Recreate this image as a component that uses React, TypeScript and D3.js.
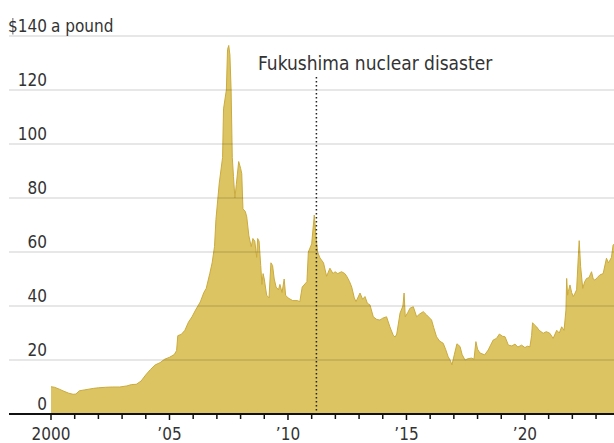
import React from "react";
import * as d3 from "d3";

// Uranium spot price, $ a pound (decimal year, price)
const years: number[] = [
  2000.0, 2000.15, 2000.35, 2000.55, 2000.75, 2000.93, 2001.05, 2001.2, 2001.4, 2001.6, 2001.8,
  2002.0, 2002.3, 2002.6, 2002.9, 2003.2, 2003.4, 2003.6, 2003.8, 2004.0, 2004.2, 2004.4, 2004.6,
  2004.8, 2005.0, 2005.2, 2005.3, 2005.35, 2005.5, 2005.65, 2005.8, 2005.95, 2006.1, 2006.3,
  2006.45, 2006.55, 2006.7, 2006.8, 2006.9, 2006.96, 2007.1, 2007.24, 2007.28, 2007.4, 2007.45,
  2007.5, 2007.55, 2007.6, 2007.65, 2007.7, 2007.76, 2007.82, 2007.92, 2008.0, 2008.05, 2008.1,
  2008.2, 2008.26, 2008.35, 2008.45, 2008.52, 2008.6, 2008.68, 2008.72, 2008.78, 2008.85, 2008.9,
  2008.95, 2009.0, 2009.1, 2009.2, 2009.28, 2009.35, 2009.42, 2009.5, 2009.6, 2009.66, 2009.75,
  2009.84, 2009.9, 2010.0, 2010.2, 2010.4, 2010.5, 2010.6, 2010.8, 2010.86, 2011.0, 2011.11,
  2011.18, 2011.25, 2011.35, 2011.5, 2011.63, 2011.77, 2011.9, 2011.98, 2012.1, 2012.26, 2012.4,
  2012.48, 2012.6, 2012.69, 2012.8, 2012.87, 2013.04, 2013.15, 2013.25, 2013.35, 2013.46, 2013.6,
  2013.75, 2013.88, 2014.0, 2014.16, 2014.3, 2014.44, 2014.52, 2014.59, 2014.73, 2014.85, 2014.9,
  2014.95, 2015.05, 2015.15, 2015.29, 2015.43, 2015.55, 2015.71, 2015.85, 2016.06, 2016.15,
  2016.27, 2016.4, 2016.55, 2016.65, 2016.76, 2016.84, 2016.92, 2017.02, 2017.13, 2017.26,
  2017.35, 2017.47, 2017.6, 2017.75, 2017.85, 2017.93, 2018.0, 2018.1, 2018.3, 2018.45, 2018.55,
  2018.66, 2018.8, 2018.92, 2019.05, 2019.16, 2019.3, 2019.45, 2019.58, 2019.7, 2019.86, 2020.0,
  2020.1, 2020.21, 2020.28, 2020.32, 2020.4, 2020.49, 2020.6, 2020.77, 2020.9, 2021.05, 2021.19,
  2021.34, 2021.45, 2021.55, 2021.65, 2021.73, 2021.76, 2021.8, 2021.83, 2021.9, 2021.97, 2022.04,
  2022.1, 2022.18, 2022.25, 2022.29, 2022.35, 2022.4, 2022.44, 2022.52, 2022.6, 2022.7, 2022.81,
  2022.88, 2022.95, 2023.05, 2023.16, 2023.3, 2023.44, 2023.52, 2023.59, 2023.65, 2023.72, 2023.78,
];
const prices: number[] = [
  10.1, 9.9, 9.2, 8.4, 7.7, 7.3, 7.4, 8.6, 8.9, 9.2, 9.5,
  9.7, 9.9, 10.0, 10.0, 10.4, 10.9, 11.0, 12.2, 14.5, 16.5, 18.2, 19.0,
  20.3, 21.0, 22.0, 23.5, 29.0, 29.5, 31.0, 34.0, 36.0, 38.5, 41.5,
  45.0, 46.5, 52.0, 56.0, 62.0, 72.0, 85.5, 95.0, 113.0, 120.0, 135.0,
  136.5, 133.0, 120.0, 95.0, 88.0, 80.0, 85.0, 93.5, 91.0, 89.0, 76.0,
  75.0, 73.0, 66.0, 62.0, 65.0, 64.0, 58.0, 65.0, 64.0, 55.0, 48.0,
  52.0, 50.0, 44.0, 43.0, 56.0, 55.0, 50.0, 47.0, 46.0, 48.0, 45.0,
  50.0, 44.0, 43.0, 42.0, 42.0, 41.6, 47.0, 49.0, 60.0, 63.0, 73.7,
  66.0, 60.0, 57.8, 56.0, 51.0, 54.0, 52.0, 52.7, 52.0, 52.7, 52.0,
  51.0, 49.0, 47.0, 43.0, 41.6, 44.8, 42.5, 43.5, 41.0, 40.4, 36.0,
  35.0, 34.8, 35.5, 36.0, 32.3, 29.2, 28.5, 29.6, 37.4, 40.0, 44.8,
  36.0, 37.5, 39.2, 39.7, 36.0, 37.0, 37.9, 36.7, 34.8, 32.0,
  28.6, 27.0, 26.2, 24.0, 21.2, 20.0, 18.2, 22.0, 26.0, 25.0,
  22.0, 20.0, 20.5, 20.7, 20.3, 26.8, 24.0, 22.6, 21.9, 23.7, 25.5,
  27.4, 28.0, 29.6, 28.8, 28.6, 25.5, 25.2, 25.9, 24.8, 25.5, 24.6,
  25.1, 24.9, 29.0, 33.8, 33.0, 32.3, 31.0, 29.9, 30.5, 29.9, 28.0,
  31.0, 30.0, 32.3, 31.0, 38.5, 50.2, 44.0, 45.3, 47.8, 45.0, 43.5,
  44.5, 46.0, 58.0, 64.2, 54.6, 50.0, 46.5, 49.0, 50.2, 50.5, 52.7,
  50.0, 49.6, 50.5, 51.5, 52.0, 57.7, 56.0, 57.0, 58.0, 62.6, 63.0,
];

const yTicks: number[] = [0, 20, 40, 60, 80, 100, 120, 140];
const xTickYears: number[] = d3.range(2000, 2024);
const xLabelYears: number[] = [2000, 2005, 2010, 2015, 2020];
const xLabels: string[] = ["2000", "\u201905", "\u201910", "\u201915", "\u201920"];
const annotationYear = 2011.2;
const annotationText = "Fukushima nuclear disaster";
const unitLabel = "a pound";

const W = 614;
const H = 443;
const FONT = "'DejaVu Sans Condensed', 'DejaVu Sans', sans-serif";

export default function App() {
  const x = d3.scaleLinear().domain([2000, 2023.8]).range([51, 615]);
  const y = d3.scaleLinear().domain([0, 140]).range([414, 36]);
  const data = years.map((yr, i) => ({ yr, v: prices[i] }));
  const area = d3
    .area<{ yr: number; v: number }>()
    .x((d) => x(d.yr))
    .y0(y(0))
    .y1((d) => y(d.v));
  const line = d3
    .line<{ yr: number; v: number }>()
    .x((d) => x(d.yr))
    .y((d) => y(d.v));

  return (
    <svg
      width={W}
      height={H}
      style={{ position: "absolute", left: 0, top: 0, background: "#fff" }}
      fontFamily={FONT}
    >
      <path d={area(data) || ""} fill="#dcc462" />
      <path d={line(data) || ""} fill="none" stroke="#cbab3e" strokeWidth={1} />
      {yTicks.map((t) =>
        t === 0 ? null : (
          <line key={t} x1={9} x2={W} y1={y(t)} y2={y(t)} stroke="rgba(0,0,0,0.13)" strokeWidth={1.5} />
        )
      )}
      {yTicks.map((t) =>
        t === 140 ? (
          <g key={t}>
            <text x={47} y={y(t) - 4} textAnchor="end" fontSize={17} fill="#333">
              {"$" + t}
            </text>
            <text x={51} y={y(t) - 4} textAnchor="start" fontSize={17} fill="#333">
              {unitLabel}
            </text>
          </g>
        ) : (
          <text key={t} x={47} y={y(t) - 4} textAnchor="end" fontSize={17} fill="#333">
            {t}
          </text>
        )
      )}
      <line
        x1={x(annotationYear)}
        x2={x(annotationYear)}
        y1={77}
        y2={y(0)}
        stroke="#222"
        strokeWidth={1.5}
        strokeDasharray="1.5,2.5"
      />
      <text x={258} y={70} fontSize={19} fill="#333">
        {annotationText}
      </text>
      <line x1={9} x2={W} y1={y(0)} y2={y(0)} stroke="#111" strokeWidth={2} />
      {xTickYears.map((yr) => (
        <line
          key={yr}
          x1={x(yr)}
          x2={x(yr)}
          y1={y(0)}
          y2={y(0) + (yr % 5 === 0 ? 6 : 5)}
          stroke="#111"
          strokeWidth={1.5}
        />
      ))}
      {xLabelYears.map((yr, i) => (
        <text key={yr} x={x(yr)} y={440} textAnchor="middle" fontSize={17} fill="#333">
          {xLabels[i]}
        </text>
      ))}
    </svg>
  );
}
